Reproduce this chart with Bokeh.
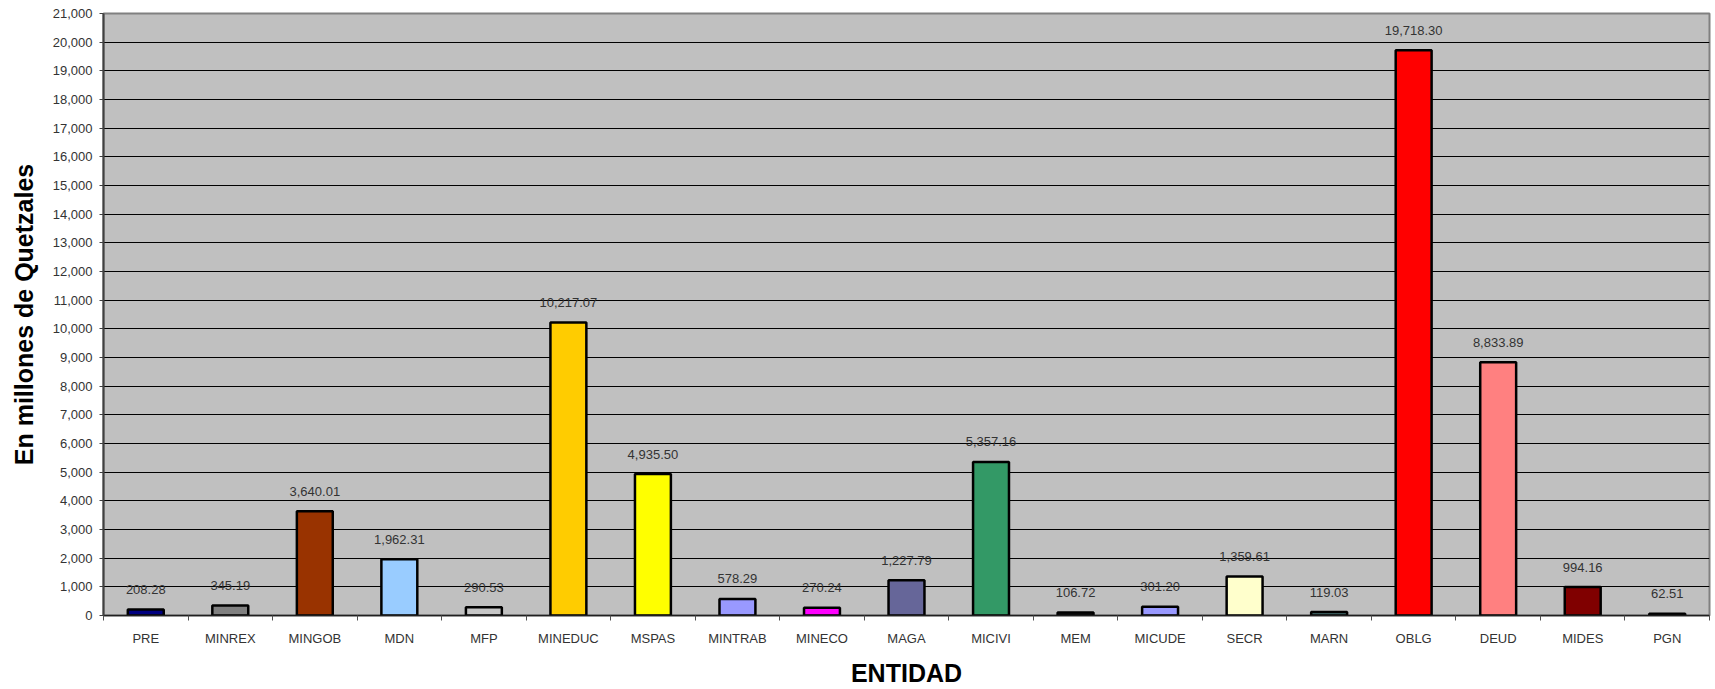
import numpy as np
from bokeh.plotting import figure
from bokeh.models import ColumnDataSource, FixedTicker, NumeralTickFormatter, Range1d
from bokeh.embed import file_html
from bokeh.resources import INLINE

categories = ["PRE", "MINREX", "MINGOB", "MDN", "MFP", "MINEDUC", "MSPAS", "MINTRAB",
              "MINECO", "MAGA", "MICIVI", "MEM", "MICUDE", "SECR", "MARN", "OBLG",
              "DEUD", "MIDES", "PGN"]
values = [208.28, 345.19, 3640.01, 1962.31, 290.53, 10217.07, 4935.50, 578.29,
          270.24, 1227.79, 5357.16, 106.72, 301.20, 1359.61, 119.03, 19718.30,
          8833.89, 994.16, 62.51]
colors = ["#000080", "#808080", "#993300", "#99CCFF", "#C6C6C6", "#FFCC00", "#FFFF00",
          "#9999FF", "#FF00FF", "#666699", "#339966", "#1A1A1A", "#9999FF", "#FFFFCC",
          "#4A7575", "#FF0000", "#FF8080", "#800000", "#111111"]
y_ticks = list(range(0, 21001, 1000))

n = len(categories)
xs = [i + 0.5 for i in range(n)]
labels = ["{:,.2f}".format(v) for v in values]

src = ColumnDataSource(dict(x=xs, top=values, color=colors, label=labels, cat=categories))

FONT = "Liberation Sans"

p = figure(width=1715, height=689, output_backend="svg", toolbar_location=None,
           x_range=Range1d(0, n), y_range=Range1d(0, 21000))
p.min_border_left = 103
p.min_border_right = 6
p.min_border_top = 13
p.min_border_bottom = 0

p.background_fill_color = "#C0C0C0"
p.border_fill_color = "white"
p.outline_line_color = "#808080"
p.outline_line_width = 2

p.vbar(x="x", top="top", bottom=0, width=0.425, fill_color="color",
       line_color="black", line_width=2.5, source=src)

p.text(x="x", y="top", text="label", source=src, text_align="center",
       text_baseline="middle", y_offset=-20, text_font_size="13px",
       text_color="#333333", text_font={"value": FONT})

# x axis
p.xaxis.ticker = FixedTicker(ticks=xs, minor_ticks=list(range(n + 1)))
p.xaxis.major_label_overrides = {x: c for x, c in zip(xs, categories)}
p.xaxis.major_tick_in = 0
p.xaxis.major_tick_out = 0
p.xaxis.minor_tick_in = 0
p.xaxis.minor_tick_out = 5
p.xaxis.minor_tick_line_color = "#505050"
p.xaxis.axis_line_color = "#202020"
p.xaxis.axis_line_width = 1.5
p.xaxis.major_label_standoff = 10
p.xaxis.major_label_text_font = FONT
p.xaxis.major_label_text_font_size = "13px"
p.xaxis.major_label_text_color = "#333333"
p.xaxis.axis_label = "ENTIDAD"
p.xaxis.axis_label_text_font = FONT
p.xaxis.axis_label_text_font_size = "25px"
p.xaxis.axis_label_text_font_style = "bold"
p.xaxis.axis_label_text_color = "black"
p.xaxis.axis_label_standoff = 10

# y axis
p.yaxis.ticker = FixedTicker(ticks=y_ticks)
p.yaxis.formatter = NumeralTickFormatter(format="0,0")
p.yaxis.major_tick_in = 0
p.yaxis.major_tick_out = 4
p.yaxis.major_tick_line_color = "#404040"
p.yaxis.minor_tick_line_color = None
p.yaxis.axis_line_color = "#404040"
p.yaxis.axis_line_width = 2
p.yaxis.major_label_standoff = 7
p.yaxis.major_label_text_font = FONT
p.yaxis.major_label_text_font_size = "13px"
p.yaxis.major_label_text_color = "#333333"
p.yaxis.axis_label = "En millones de Quetzales"
p.yaxis.axis_label_text_font = FONT
p.yaxis.axis_label_text_font_size = "25px"
p.yaxis.axis_label_text_font_style = "bold"
p.yaxis.axis_label_text_color = "black"
p.yaxis.axis_label_standoff = 12

p.xgrid.grid_line_color = None
p.ygrid.ticker = FixedTicker(ticks=y_ticks)
p.ygrid.grid_line_color = "black"
p.ygrid.grid_line_width = 1

open("out.html", "w").write(file_html(p, INLINE))
